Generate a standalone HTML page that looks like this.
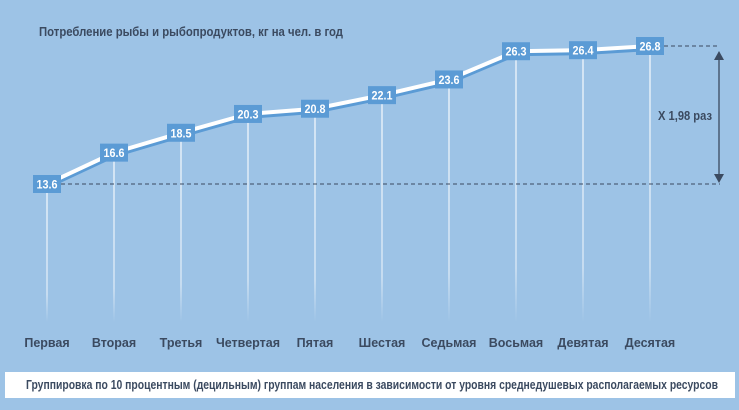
<!DOCTYPE html>
<html><head><meta charset="utf-8"><style>
html,body{margin:0;padding:0;background:#9dc3e6;}
svg{display:block;font-family:"Liberation Sans",sans-serif;}
</style></head><body>
<svg id="chart" width="739" height="410" viewBox="0 0 739 410">
<defs>
<linearGradient id="fade" x1="0" y1="0" x2="0" y2="1"><stop offset="0" stop-color="#fff" stop-opacity="0.95"/><stop offset="0.8" stop-color="#fff" stop-opacity="0.7"/><stop offset="1" stop-color="#fff" stop-opacity="0"/></linearGradient>
</defs>
<rect width="739" height="410" fill="#9dc3e6"/>
<text x="39" y="36" font-size="13" font-weight="bold" fill="#3b4a60" textLength="304" lengthAdjust="spacingAndGlyphs">Потребление рыбы и рыбопродуктов, кг на чел. в год</text>
<g id="grid"></g>
<g id="refs"></g>
<g id="line"></g>
<g id="labels"></g>
<g id="cats"></g>
<rect x="5" y="372" width="730" height="26" fill="#fff"/>
<text x="26" y="389" font-size="12.5" font-weight="bold" fill="#3b4a60" textLength="692" lengthAdjust="spacingAndGlyphs">Группировка по 10 процентным (децильным) группам населения в зависимости от уровня среднедушевых располагаемых ресурсов</text>
</svg>
<script>
const categories=["Первая","Вторая","Третья","Четвертая","Пятая","Шестая","Седьмая","Восьмая","Девятая","Десятая"];
const values=[13.6,16.6,18.5,20.3,20.8,22.1,23.6,26.3,26.4,26.8];
const valueLabels=["13.6","16.6","18.5","20.3","20.8","22.1","23.6","26.3","26.4","26.8"];
const ratioLabel="X 1,98 раз";
const NS="http://www.w3.org/2000/svg";
function xs(i){return 47+i*67;}
function ys(v){return 184-(v-13.6)*(138/13.2);}
function mk(tag,attrs,parent){const e=document.createElementNS(NS,tag);for(const k in attrs)e.setAttribute(k,attrs[k]);document.getElementById(parent).appendChild(e);return e;}
values.forEach((v,i)=>{
  const l=mk('rect',{x:xs(i)-0.6,y:ys(v),width:1.2,height:322-ys(v),fill:'url(#fade)'},'grid');
  
  
});
const mn=Math.min(...values),mx=Math.max(...values);
const d1=mk('line',{x1:xs(0),y1:ys(mn),x2:720,y2:ys(mn),stroke:'#3b4a60','stroke-dasharray':'4 3','stroke-width':1},'refs');


const d2=mk('line',{x1:xs(9),y1:ys(mx),x2:720,y2:ys(mx),stroke:'#3b4a60','stroke-dasharray':'4 3','stroke-width':1},'refs');


const ar=mk('line',{x1:719,y1:ys(mx)+12,x2:719,y2:ys(mn)-10,stroke:'#3b4a60','stroke-width':1.3},'refs');


const a1=mk('polygon',{points:`714,${ys(mx)+14} 724,${ys(mx)+14} 719,${ys(mx)+5}`,fill:'#3b4a60'},'refs');


const a2=mk('polygon',{points:`714,${ys(mn)-10} 724,${ys(mn)-10} 719,${ys(mn)-1}`,fill:'#3b4a60'},'refs');


const rt=mk('text',{x:712,y:(ys(mx)+ys(mn))/2+5,'font-size':13,'font-weight':'bold',fill:'#3b4a60','text-anchor':'end',textLength:54,lengthAdjust:'spacingAndGlyphs'},'refs');
rt.textContent=ratioLabel;


const pts=values.map((v,i)=>xs(i)+','+ys(v)).join(' ');
const sh=mk('polyline',{points:pts,fill:'none',stroke:'#5b9bd5','stroke-width':4,transform:'translate(0,3)'},'line');


const pl=mk('polyline',{points:pts,fill:'none',stroke:'#fff','stroke-width':4},'line');


values.forEach((v,i)=>{
  const r=mk('rect',{x:xs(i)-14,y:ys(v)-9,width:28,height:18,fill:'#5b9bd5'},'labels');
  
  
  const t=mk('text',{x:xs(i),y:ys(v)+4.5,'font-size':12,'font-weight':'bold',fill:'#fff','text-anchor':'middle',textLength:21,lengthAdjust:'spacingAndGlyphs'},'labels');
  t.textContent=valueLabels[i];
  
  
});
categories.forEach((c,i)=>{
  const t=mk('text',{x:xs(i),y:347,'font-size':12.5,'font-weight':'bold',fill:'#3b4a60','text-anchor':'middle'},'cats');
  t.textContent=c;
  
  
});
</script>
</body></html>
